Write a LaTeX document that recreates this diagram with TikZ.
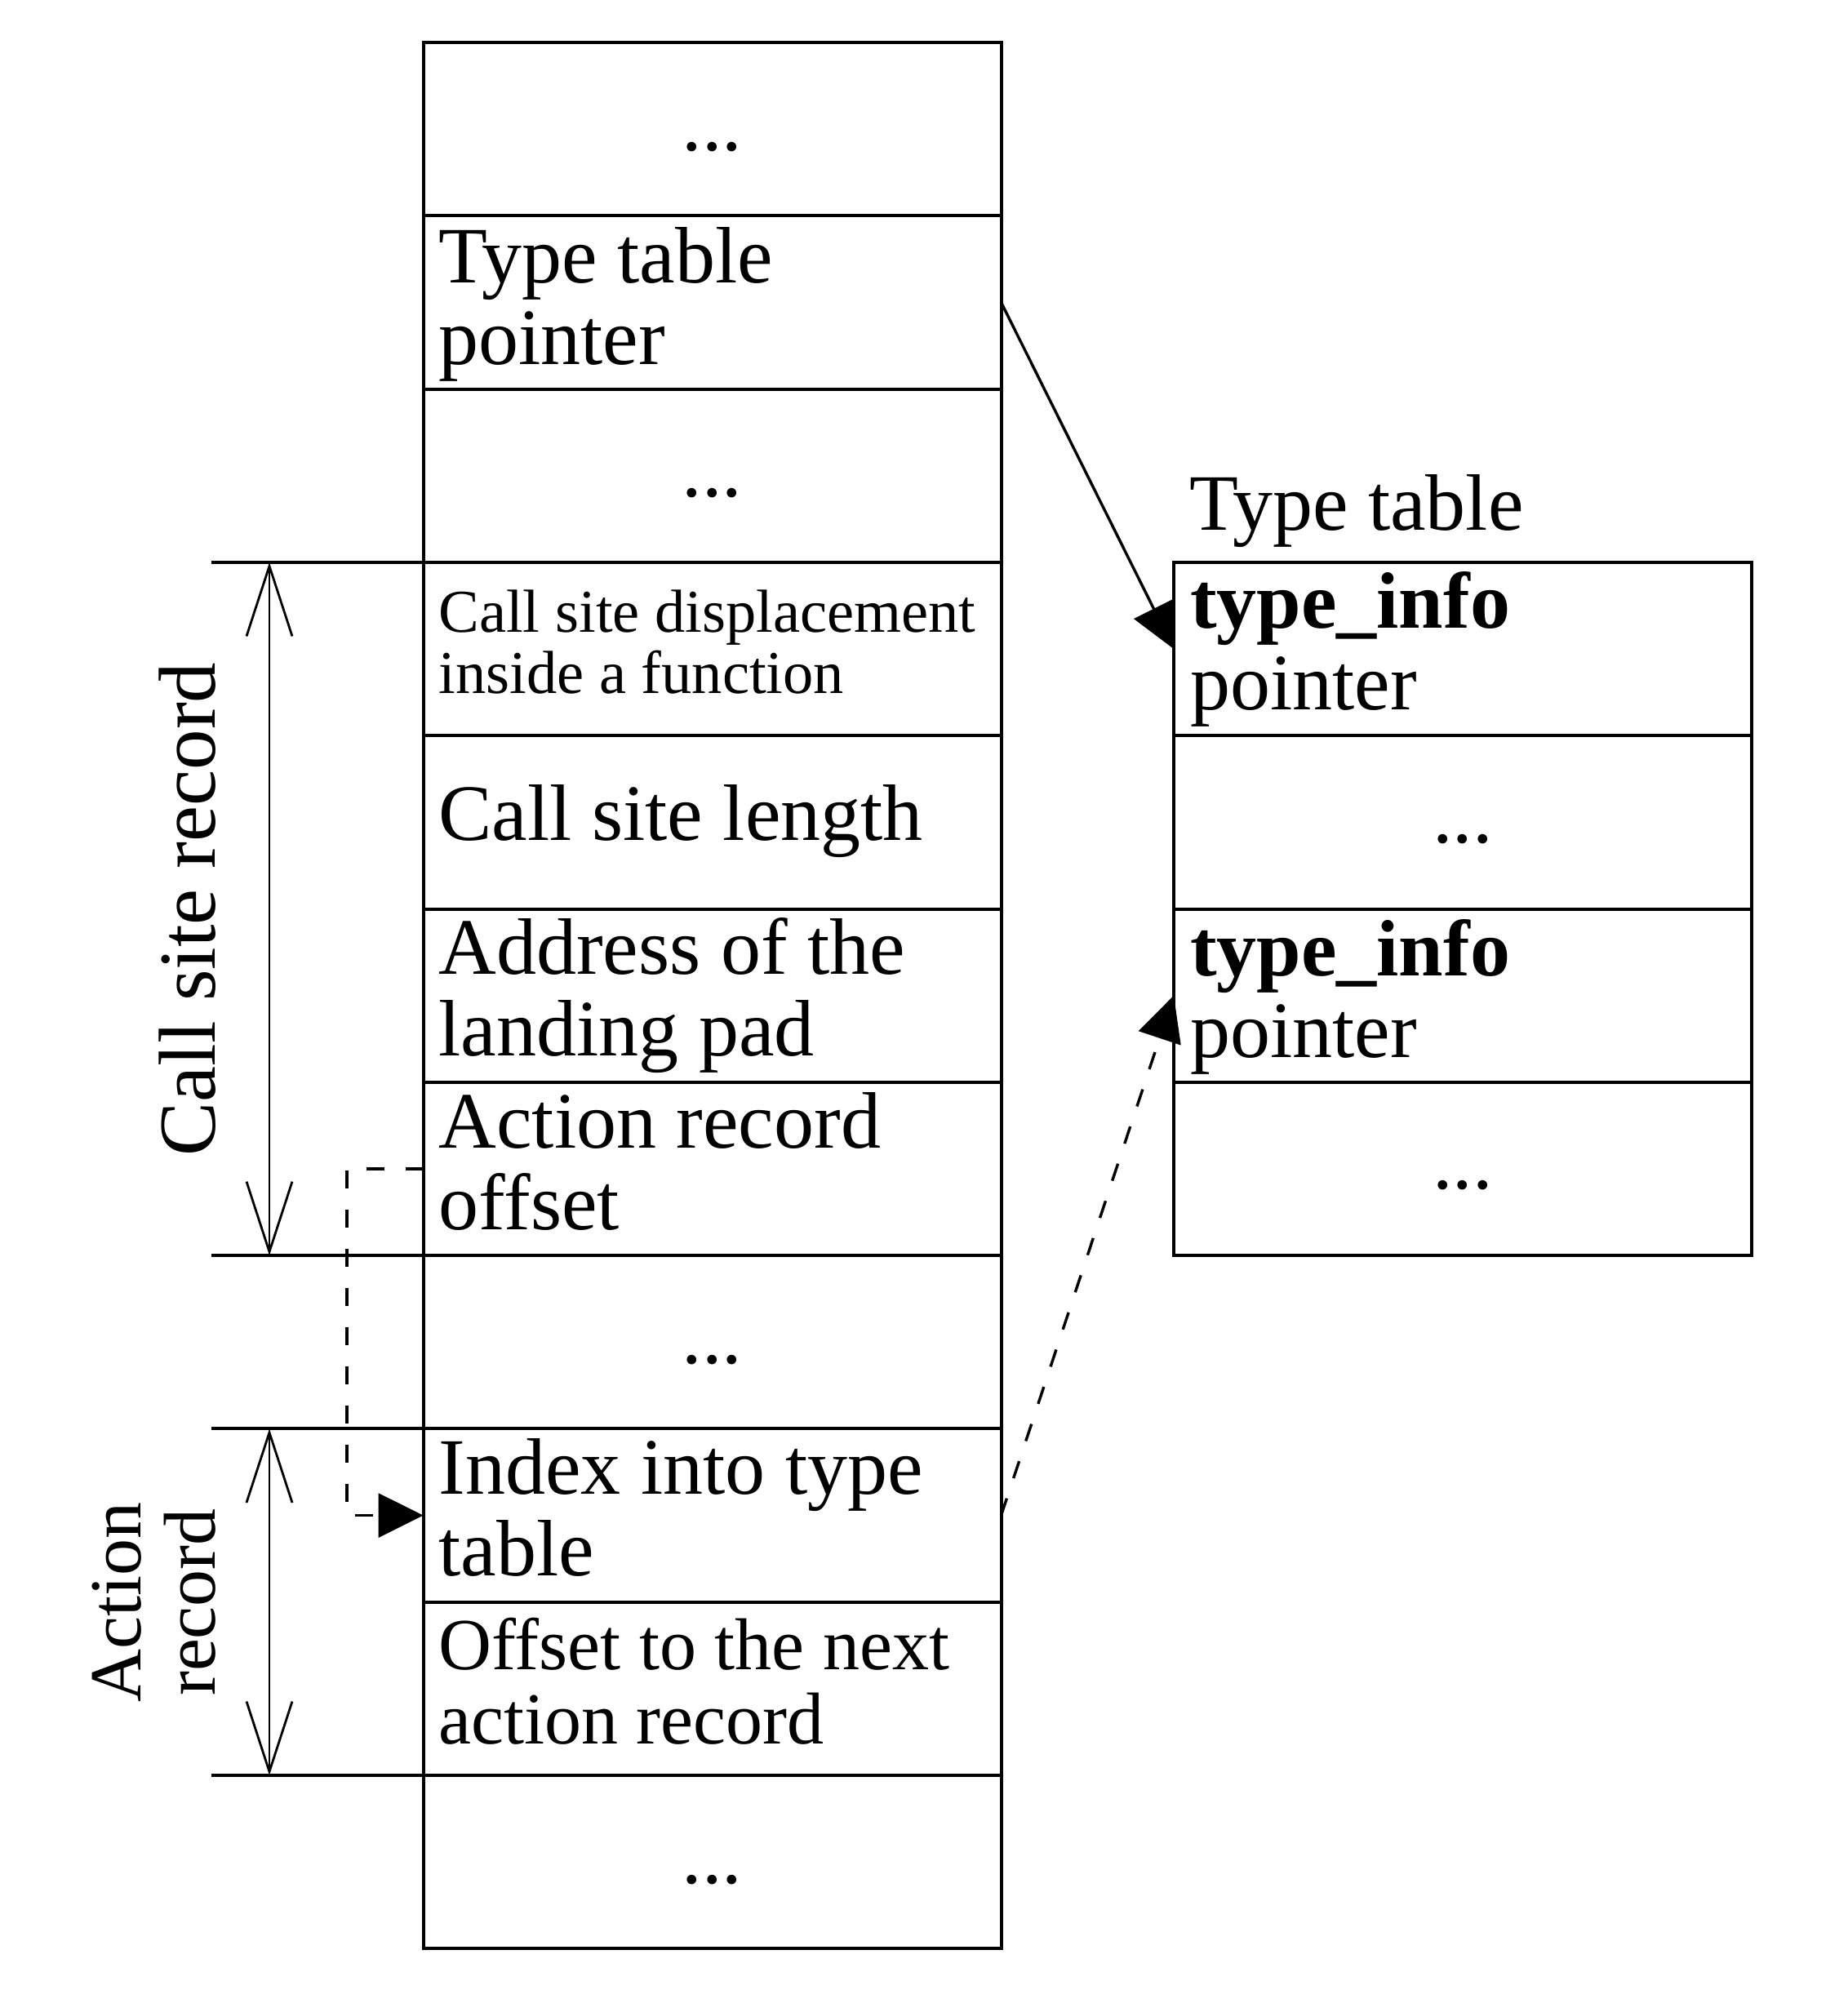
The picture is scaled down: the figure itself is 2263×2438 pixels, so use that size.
\documentclass[tikz,border=0pt]{standalone}
\usepackage{fontspec}
\setmainfont{Liberation Serif}
\usetikzlibrary{arrows.meta,calc}
\begin{document}
\begin{tikzpicture}[x=1pt,y=1pt,
  row/.style={draw, line width=4pt, minimum width=708pt, minimum height=212.3pt, inner sep=0pt, outer sep=0pt},
  txt/.style={inner sep=0pt, outer sep=0pt},
  big/.style={txt, font=\fontsize{98}{100}\selectfont},
  mid/.style={txt, font=\fontsize{90}{91}\selectfont},
  small/.style={txt, font=\fontsize{74.5}{75}\selectfont},
  conn/.style={line width=3.4pt},
  dsh/.style={dash pattern=on 22pt off 26pt},
  tip/.style={-{Triangle[length=55pt,width=54pt]}},
  ext/.style={line width=4pt},
  dim/.style={line width=2.8pt, {Straight Barb[length=86pt,width=56pt]}-{Straight Barb[length=86pt,width=56pt]}}
]
\useasboundingbox (0,0) rectangle (2263,-2438);

% left column
\foreach \i in {0,...,10}
  \node[row] (r\i) at (872.5,{-52-212.3*(\i+0.5)}) {};
% right table
\foreach \i in {0,...,3}
  \node[row] (tt\i) at (1792,{-688.9-212.3*(\i+0.5)}) {};

% left texts
\node[big, anchor=base] (d0) at ($(r0.north)+(0,-132)$) {...};
\node[big, anchor=base west] (t1) at ($(r1.north west)+(19,-82)$) {\parbox[t]{680pt}{Type table\\pointer}};
\node[big, anchor=base] (d2) at ($(r2.north)+(0,-132)$) {...};
\node[small, anchor=base west] (t3) at ($(r3.north west)+(19,-86)$) {\parbox[t]{680pt}{Call site displacement\\inside a function}};
\node[big, anchor=base west] (t4) at ($(r4.north west)+(19,-128)$) {Call site length};
\node[big, anchor=base west] (t5) at ($(r5.north west)+(19,-80)$) {\parbox[t]{680pt}{Address of the\\landing pad}};
\node[big, anchor=base west] (t6) at ($(r6.north west)+(19,-81)$) {\parbox[t]{680pt}{Action record\\offset}};
\node[big, anchor=base] (d7) at ($(r7.north)+(0,-132)$) {...};
\node[big, anchor=base west] (t8) at ($(r8.north west)+(19,-80)$) {\parbox[t]{680pt}{Index into type\\table}};
\node[mid, anchor=base west] (t9) at ($(r9.north west)+(19,-83)$) {\parbox[t]{680pt}{Offset to the next\\action record}};
\node[big, anchor=base] (d10) at ($(r10.north)+(0,-132)$) {...};

% right texts
\node[big, anchor=base west] (title) at ($(tt0.north west)+(19,39)$) {Type table};
\node[big, anchor=base west] (u0) at ($(tt0.north west)+(20,-81)$) {\parbox[t]{680pt}{\textbf{type\_info}\\pointer}};
\node[big, anchor=base] (u1) at ($(tt1.north)+(0,-131)$) {...};
\node[big, anchor=base west] (u2) at ($(tt2.north west)+(20,-82)$) {\parbox[t]{680pt}{\textbf{type\_info}\\pointer}};
\node[big, anchor=base] (u3) at ($(tt3.north)+(0,-131)$) {...};

% extension lines
\draw[ext] (r3.north west) -- ++(-259.5,0);
\draw[ext] (r6.south west) -- ++(-259.5,0);
\draw[ext] (r8.north west) -- ++(-259.5,0);
\draw[ext] (r9.south west) -- ++(-259.5,0);

% dimension arrows
\coordinate (csA) at ($(r3.north west)+(-188.5,0)$);
\coordinate (csB) at ($(r6.south west)+(-188.5,0)$);
\coordinate (arA) at ($(r8.north west)+(-188.5,0)$);
\coordinate (arB) at ($(r9.south west)+(-188.5,0)$);
\draw[dim] (csA) -- (csB);
\draw[dim] (arA) -- (arB);

% labels
\node[txt, rotate=90, anchor=base, font=\fontsize{99}{100}\selectfont] (lcs) at (263,-1114) {Call site record};
\node[mid, rotate=90, anchor=base] (lar) at (172,-1963) {\parbox[t]{400pt}{\centering Action\\record}};

% connectors
\draw[conn, tip] (r1.east) -- (tt0.west);
\draw[conn, dsh, tip] (r8.east) -- (tt2.west);
\draw[conn, dsh, tip] (r6.west) -- ++(-93.5,0) |- (r8.west);
\end{tikzpicture}
\end{document}
